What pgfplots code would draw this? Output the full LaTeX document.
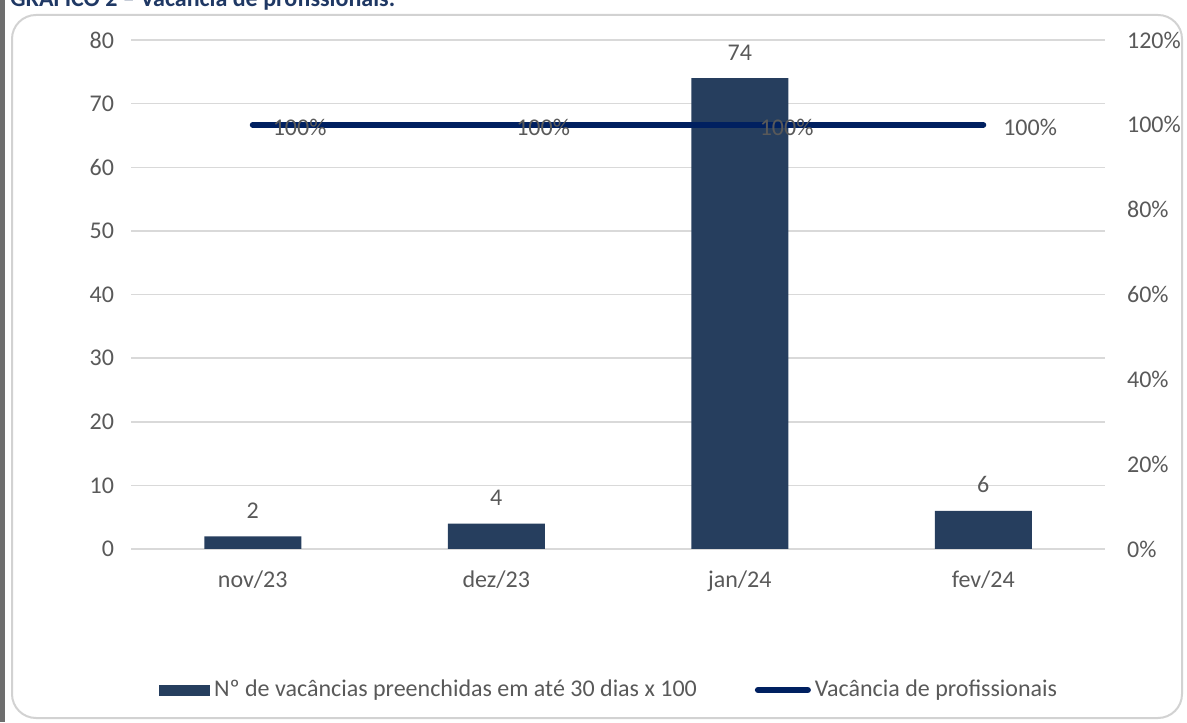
\documentclass[border=0pt]{standalone}
\usepackage{pgfplots}
\pgfplotsset{compat=1.18}
\usepackage{fontspec}
\setmainfont{Carlito}

\definecolor{barcol}{RGB}{38,62,94}
\definecolor{linecol}{RGB}{0,32,96}
\definecolor{txtgray}{RGB}{89,89,89}
\definecolor{gridgray}{RGB}{217,217,217}
\definecolor{titleblue}{RGB}{31,56,100}
\definecolor{framegray}{RGB}{210,210,210}
\definecolor{sidebar}{RGB}{110,110,110}

\pgfplotstableread{
x  n
0  2
1  4
2  74
3  6
}\bars

\pgfplotstableread{
x  v
0  1.0
1  1.0
2  1.0
3  1.0
}\vac

\begin{document}
\begin{tikzpicture}
\useasboundingbox (0pt,0pt) rectangle (593.5pt,361pt);
\fill[sidebar] (0pt,0pt) rectangle (2.5pt,361pt);
\draw[framegray, line width=1pt, rounded corners=12pt] (6pt,2pt) rectangle (591pt,353.5pt);
\begin{scope}
\clip (0pt,0pt) rectangle (593.5pt,361pt);
\node[anchor=base west, inner sep=0, font=\fontsize{12}{14}\selectfont\bfseries, text=titleblue]
  at (5pt,357.5pt) {GRÁFICO 2 – Vacância de profissionais.};
\end{scope}

% left axis: bars
\begin{axis}[
    at={(65.5pt,86.5pt)}, anchor=south west,
    scale only axis, width=487pt, height=254.5pt,
    xmin=-0.5, xmax=3.5, ymin=0, ymax=80,
    ytick={0,10,...,80},
    xtick={0,1,2,3},
    xticklabels={nov/23,dez/23,jan/24,fev/24},
    extra x ticks={-0.5,0.5,1.5,2.5,3.5},
    extra x tick labels={},
    extra x tick style={major tick length=5pt, tick align=outside,
        tick style={draw=gridgray, line width=0.75pt}, grid=none},
    xtick pos=bottom, ytick pos=left,
    major tick style={draw=none},
    axis line style={draw=none},
    ymajorgrids, major grid style={draw=gridgray, line width=0.75pt},
    tick label style={font=\fontsize{12}{14}\selectfont, text=txtgray},
    /pgf/number format/assume math mode=true,
    yticklabel style={xshift=-5pt},
    xticklabel style={yshift=-3pt},
    ybar, bar width=48.5pt,
    nodes near coords,
    every node near coord/.append style={font=\fontsize{12}{14}\selectfont, text=txtgray, yshift=5.5pt},
]
\addplot[fill=barcol, draw=none] table[x=x, y=n] {\bars};
\end{axis}

% right axis: line
\begin{axis}[
    at={(65.5pt,86.5pt)}, anchor=south west,
    scale only axis, width=487pt, height=254.5pt,
    xmin=-0.5, xmax=3.5, ymin=0, ymax=1.2,
    hide x axis,
    axis line style={draw=none},
    ytick={0,0.2,0.4,0.6,0.8,1,1.2},
    yticklabels={0\%,20\%,40\%,60\%,80\%,100\%,120\%},
    ytick pos=right, major tick style={draw=none},
    yticklabel style={font=\fontsize{12}{14}\selectfont, text=txtgray, xshift=7.5pt},
    /pgf/number format/assume math mode=true,
    point meta={y*100},
    nodes near coords={\pgfmathprintnumber[fixed,precision=0,assume math mode=true]{\pgfplotspointmeta}\%},
    nodes near coords align={anchor=west},
    every node near coord/.append style={font=\fontsize{12}{14}\selectfont, text=txtgray, inner sep=0pt, xshift=8.5pt, yshift=-1.5pt},
    legend style={at={(axis description cs:0.492,-0.277)}, anchor=center,
        draw=none, fill=none, legend columns=2,
        font=\fontsize{12}{14}\selectfont, text=txtgray,
        /tikz/every even column/.append style={column sep=27pt}},
]
\addlegendimage{legend image code/.code={\fill[barcol] (0pt,-2.5pt) rectangle (25pt,2.5pt);}}
\addlegendentry{Nº de vacâncias preenchidas em até 30 dias x 100}
\addplot[draw=linecol, line width=3pt, line cap=round, mark=none,
    legend image code/.code={\draw[linecol, line width=3pt, line cap=round] (1.5pt,0pt) -- (26.5pt,0pt);}]
    table[x=x, y=v] {\vac};
\addlegendentry{Vacância de profissionais}
\end{axis}
\end{tikzpicture}
\end{document}
